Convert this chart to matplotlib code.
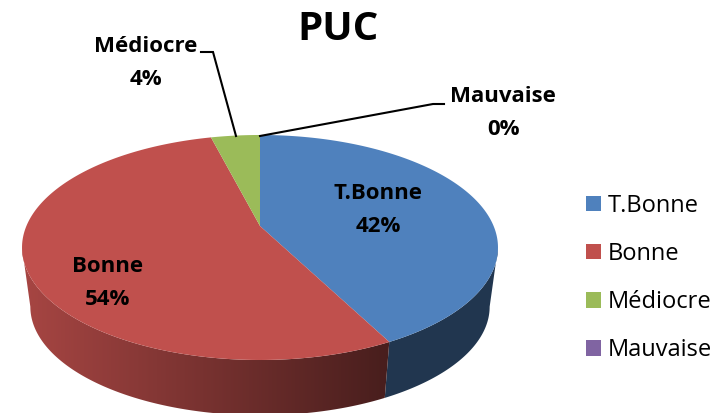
import matplotlib
matplotlib.use('Agg')
import matplotlib.pyplot as plt
from matplotlib.patches import Patch, Polygon
import numpy as np

plt.rcParams['font.family'] = ['Open Sans', 'DejaVu Sans']

# Data
labels = ['T.Bonne', 'Bonne', 'Médiocre', 'Mauvaise']
values = [42.4, 53.6, 4.0, 0.0]
colors = ['#4f81bd', '#c0504d', '#9bbb59', '#8064a2']
title = 'PUC'

# Pie geometry in pixels (the figure axes is in pixel coords)
cx, cy = 260, 226
rx, ry = 233.6, 108.4
persp = 0.191
depth = 60
bottom_scale = 0.965


# Perspective view of a point on the pie's circle, theta is clockwise from the top
def project(theta, scale=1.0, drop=0):
    x = np.sin(theta)
    y = np.cos(theta)
    w = 1 + persp * y
    return cx + scale * rx * x / w, cy - scale * ry * y / w + drop


fig = plt.figure(figsize=(7.26, 4.13), dpi=100)
ax = fig.add_axes([0, 0, 1, 1])
ax.set_xlim(0, 726)
ax.set_ylim(413, 0)
ax.axis('off')

edges = 2 * np.pi * np.cumsum([0] + values) / sum(values)

# Only the front of the wall shows, between the two side tangents
front_start = np.arccos(-persp)
front_end = 2 * np.pi - front_start

# Red wall shading, left to right
base = np.array(matplotlib.colors.to_rgb(colors[1]))
shade = np.linspace(0.87, 0.37, 256).reshape(1, -1, 1) * base.reshape(1, 1, 3)

for i in range(len(values)):
    start = max(edges[i], front_start)
    stop = min(edges[i + 1], front_end)
    if stop <= start:
        continue
    t = np.linspace(start, stop, 200)
    x1, y1 = project(t)
    x2, y2 = project(t[::-1], bottom_scale, depth)
    wall = np.c_[np.r_[x1, x2], np.r_[y1, y2]]
    if i == 1:
        img = ax.imshow(shade, extent=(22, 392, 413, 0), aspect='auto', zorder=1)
        img.set_clip_path(Polygon(wall, transform=ax.transData))
    else:
        wall_c = np.array(matplotlib.colors.to_rgb(colors[i])) * 0.42
        ax.fill(wall[:, 0], wall[:, 1], color=wall_c, lw=0, zorder=1)
ax.set_xlim(0, 726)
ax.set_ylim(413, 0)

# Top surface
for i in range(len(values)):
    if values[i] == 0:
        continue
    t = np.linspace(edges[i], edges[i + 1], 200)
    xs, ys = project(t)
    ax.fill(np.r_[cx, xs], np.r_[cy, ys], color=colors[i], lw=0, zorder=2)

# Leader lines
ax.plot([201, 213, 236], [52, 52, 136], color='black', lw=1.5, zorder=3, solid_joinstyle='miter')
ax.plot([260, 433, 444], [136, 104, 104], color='black', lw=1.5, zorder=3, solid_joinstyle='miter')

# Slice labels
label_pos = [(378, 210), (108, 283), (146, 63), (503, 113)]
for i in range(len(labels)):
    ax.text(label_pos[i][0], label_pos[i][1], '%s\n%.0f%%' % (labels[i], values[i]),
            ha='center', va='center', fontsize=16, fontweight='bold',
            linespacing=1.75, color='black', zorder=4)

ax.text(338, 30, title, ha='center', va='center', fontsize=29, fontweight='bold')

handles = [Patch(facecolor=c, edgecolor='none') for c in colors]
ax.legend(handles, labels, loc='center left', bbox_to_anchor=(586 / 726, 1 - 278 / 413),
          frameon=False, fontsize=17, handlelength=0.64, handleheight=0.64,
          handletextpad=0.3, labelspacing=1.02, borderpad=0, borderaxespad=0)

fig.savefig('out.png', dpi=100)
